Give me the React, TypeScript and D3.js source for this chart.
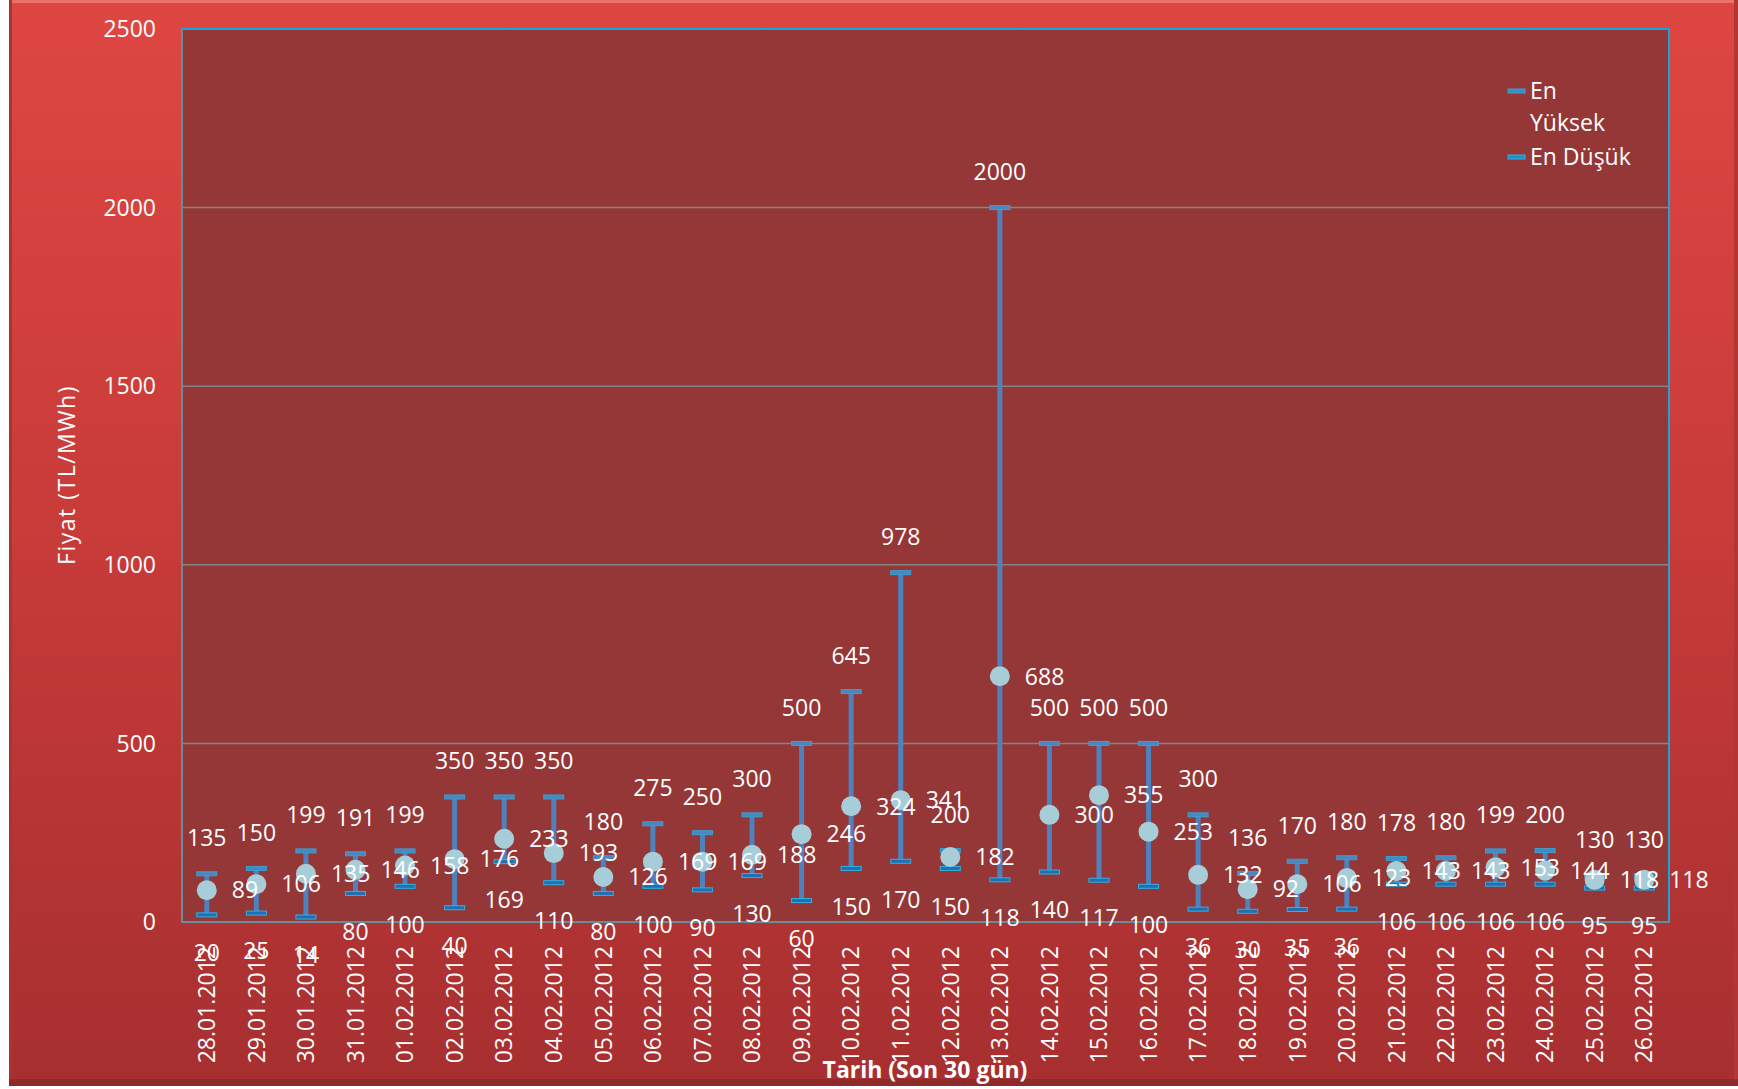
import * as d3 from 'd3'

// Günlük fiyat verileri (TL/MWh)
const dates = [
	'28.01.2012', '29.01.2012', '30.01.2012', '31.01.2012', '01.02.2012',
	'02.02.2012', '03.02.2012', '04.02.2012', '05.02.2012', '06.02.2012',
	'07.02.2012', '08.02.2012', '09.02.2012', '10.02.2012', '11.02.2012',
	'12.02.2012', '13.02.2012', '14.02.2012', '15.02.2012', '16.02.2012',
	'17.02.2012', '18.02.2012', '19.02.2012', '20.02.2012', '21.02.2012',
	'22.02.2012', '23.02.2012', '24.02.2012', '25.02.2012', '26.02.2012',
]
const highs = [135, 150, 199, 191, 199, 350, 350, 350, 180, 275, 250, 300, 500, 645, 978, 200, 2000, 500, 500, 500, 300, 136, 170, 180, 178, 180, 199, 200, 130, 130]
const lows = [20, 25, 14, 80, 100, 40, 169, 110, 80, 100, 90, 130, 60, 150, 170, 150, 118, 140, 117, 100, 36, 30, 35, 36, 106, 106, 106, 106, 95, 95]
const averages = [89, 106, 135, 146, 158, 176, 233, 193, 126, 169, 169, 188, 246, 324, 341, 182, 688, 300, 355, 253, 132, 92, 106, 123, 143, 143, 153, 144, 118, 118]
const yTicks = [0, 500, 1000, 1500, 2000, 2500]

const W = 1738
const H = 1089
const plot = { left: 182, right: 1669, top: 29, bottom: 922 }
const font = "'Open Sans', sans-serif"

const App = () => {
	const x = d3
		.scaleBand()
		.domain(dates)
		.range([plot.left, plot.right])
	const y = d3.scaleLinear().domain([0, 2500]).range([plot.bottom, plot.top])
	const cx = (d: string) => (x(d) ?? 0) + x.bandwidth() / 2

	return (
		<svg width={W} height={H} style={{ display: 'block', position: 'absolute', left: 0, top: 0 }} fontFamily={font}>
			<defs>
				<linearGradient id='bg' x1='0' y1='0' x2='0' y2='1'>
					<stop offset='0' stopColor='#de4642' />
					<stop offset='0.5' stopColor='#c73b39' />
					<stop offset='1' stopColor='#a72f30' />
				</linearGradient>
			</defs>
			<rect x={0} y={0} width={W} height={H} fill='#ffffff' />
			<rect x={9} y={0} width={W - 9} height={1086} fill='url(#bg)' />
			<rect x={9} y={0} width={W - 9} height={3} fill='#f07a76' opacity={0.8} />
			<rect x={9} y={0} width={3} height={1086} fill='#a83433' />
			<rect x={W - 4} y={0} width={4} height={1086} fill='#b33635' />
			<rect x={9} y={1079} width={W - 9} height={7} fill='#8e2a2a' />

			{/* plot area */}
			<rect x={plot.left} y={plot.top} width={plot.right - plot.left} height={plot.bottom - plot.top} fill='#953737' stroke='#1ba3dd' strokeWidth={2} />

			{/* gridlines */}
			{yTicks.slice(1, -1).map((t) => (
				<line key={t} x1={plot.left} x2={plot.right} y1={y(t)} y2={y(t)} stroke='#848484' strokeWidth={1.5} />
			))}
			<line x1={plot.left} x2={plot.left} y1={plot.top} y2={plot.bottom} stroke='#848484' strokeWidth={1.5} />
			<line x1={plot.left} x2={plot.right} y1={plot.bottom} y2={plot.bottom} stroke='#848484' strokeWidth={1.5} />

			{/* y axis labels */}
			{yTicks.map((t) => (
				<text key={t} x={156} y={y(t)} dy='0.36em' textAnchor='end' fill='#fff' fontSize={23}>
					{t}
				</text>
			))}

			{/* high-low bars */}
			{dates.map((d, i) => (
				<g key={d}>
					<line x1={cx(d)} x2={cx(d)} y1={y(highs[i])} y2={y(lows[i])} stroke='#4f81bd' strokeWidth={5} />
					<rect x={cx(d) - 10} y={y(highs[i]) - 2} width={20} height={4} fill='#4a86c0' stroke='#3aa0cf' strokeWidth={1} />
					<rect x={cx(d) - 10} y={y(lows[i]) - 2} width={20} height={4} fill='#1e6fb3' stroke='#2fb2e4' strokeWidth={1} />
					<circle cx={cx(d)} cy={y(averages[i])} r={10} fill='#a7cdd9' />
				</g>
			))}

			{/* data labels */}
			{dates.map((d, i) => (
				<g key={'l' + d} fill='#fff' fontSize={23}>
					<text x={cx(d)} y={y(highs[i]) - 36} dy='0.36em' textAnchor='middle'>
						{highs[i]}
					</text>
					<text x={cx(d)} y={y(lows[i]) + 38} dy='0.36em' textAnchor='middle'>
						{lows[i]}
					</text>
					<text x={cx(d) + 25} y={y(averages[i])} dy='0.36em' textAnchor='start'>
						{averages[i]}
					</text>
				</g>
			))}

			{/* x axis labels */}
			{dates.map((d) => (
				<text key={'x' + d} transform={`translate(${cx(d)},946) rotate(-90)`} dy='0.36em' textAnchor='end' fill='#fff' fontSize={23}>
					{d}
				</text>
			))}

			{/* axis titles */}
			<text x={925} y={1070} dy='0.36em' textAnchor='middle' fill='#fff' fontSize={23} fontWeight='bold'>
				Tarih (Son 30 gün)
			</text>
			<text transform='translate(67,475) rotate(-90)' dy='0.36em' textAnchor='middle' fill='#fff' fontSize={23} letterSpacing={1.5}>
				Fiyat (TL/MWh)
			</text>

			{/* legend */}
			<g fontSize={23} fill='#fff'>
				<rect x={1508} y={89} width={17} height={4} fill='#3f8dc0' stroke='#3aa0cf' strokeWidth={1} />
				<text x={1530} y={91} dy='0.36em'>En</text>
				<text x={1530} y={123} dy='0.36em'>Yüksek</text>
				<rect x={1508} y={155} width={17} height={4} fill='#1e8fcb' stroke='#2fb2e4' strokeWidth={1} />
				<text x={1530} y={157} dy='0.36em'>En Düşük</text>
			</g>
		</svg>
	)
}

export default App
